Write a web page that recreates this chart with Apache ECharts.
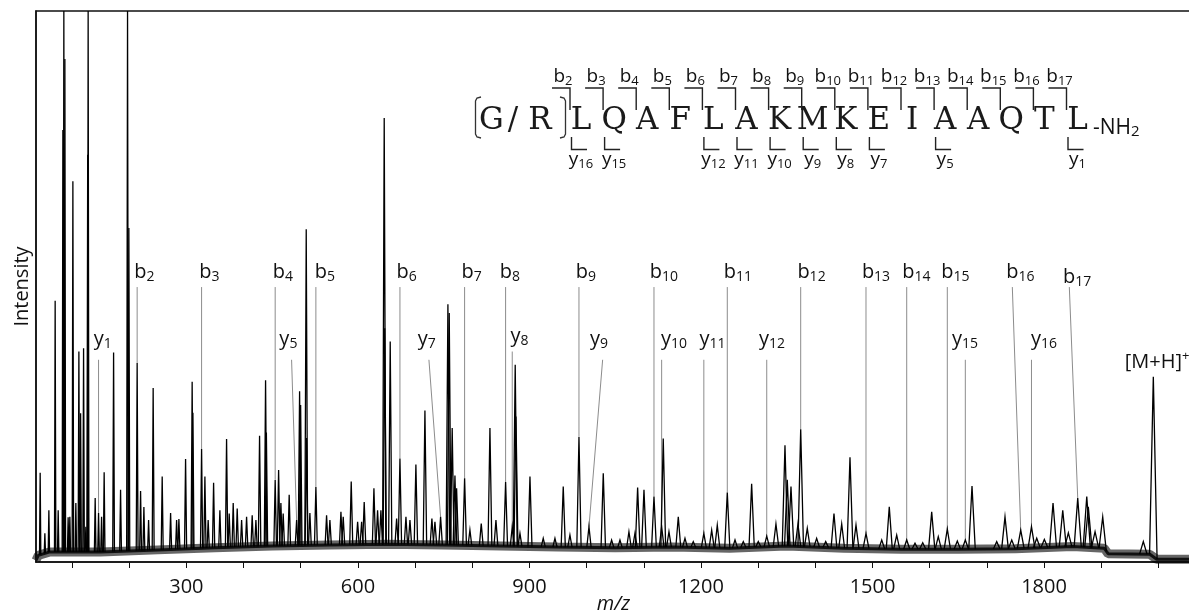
<!DOCTYPE html>
<html>
<head>
<meta charset="utf-8">
<title>MS/MS spectrum</title>
<script src="https://cdn.jsdelivr.net/npm/echarts@6/dist/echarts.min.js"></script>
<style>
  html, body { margin: 0; padding: 0; background: #ffffff; }
  #chart { width: 1189px; height: 616px; }
</style>
</head>
<body>
<div id="chart"></div>
<script>
// ---- spectrum peaks (m/z, relative intensity %) ----
const peakMz = [
  44.3, 52.5, 59.5, 70.5, 75.8, 84.0, 85.7, 87.5, 93.2, 96.2,
  101.5, 106.7, 112.0, 115.0, 120.2, 124.2, 127.4, 128.2, 140.5, 146.4,
  151.7, 156.2, 172.7, 184.9, 197.1, 199.4, 213.9, 219.9, 225.7, 233.9,
  241.9, 257.7, 272.4, 282.9, 286.9, 298.6, 310.1, 311.4, 326.6, 332.4,
  338.1, 347.6, 358.6, 370.3, 374.9, 381.9, 388.9, 396.6, 405.3, 415.1,
  421.6, 428.0, 438.5, 439.9, 455.3, 461.3, 465.3, 469.3, 479.8, 492.8,
  498.0, 499.8, 509.6, 510.1, 516.0, 526.5, 545.2, 551.0, 570.3, 574.3,
  588.3, 599.5, 606.5, 611.0, 628.0, 634.4, 640.2, 646.0, 646.9, 656.5,
  667.7, 673.5, 684.0, 691.0, 701.4, 717.2, 729.4, 734.7, 744.6, 757.4,
  759.7, 764.9, 769.7, 772.6, 786.6, 795.9, 815.7, 830.9, 841.4, 858.3,
  869.9, 875.1, 876.4, 883.4, 900.9, 924.1, 944.6, 959.1, 970.8, 986.6,
  1004.1, 1029.1, 1043.7, 1058.3, 1074.0, 1084.5, 1089.2, 1100.3, 1117.8, 1131.2,
  1134.0, 1144.0, 1160.3, 1172.0, 1186.5, 1205.0, 1218.7, 1228.5, 1246.0, 1259.5,
  1274.0, 1288.6, 1300.2, 1315.0, 1331.1, 1346.9, 1350.9, 1357.4, 1369.6, 1374.4,
  1385.9, 1402.3, 1418.1, 1432.6, 1446.1, 1460.6, 1471.1, 1488.6, 1516.1, 1529.3,
  1542.3, 1559.8, 1574.3, 1587.8, 1603.5, 1615.0, 1630.8, 1648.3, 1662.3, 1674.0,
  1717.2, 1731.7, 1743.5, 1759.2, 1778.0, 1787.2, 1800.5, 1815.7, 1832.7, 1842.5,
  1858.9, 1874.7, 1877.4, 1889.2, 1902.6, 1973.6, 1991.1
];
const peakIntensity = [
  16.2, 5.2, 9.4, 47.4, 9.4, 78.4, 100, 91.3, 8.1, 8.2,
  69.1, 10.7, 38.2, 27.0, 38.8, 6.4, 73.9, 100, 11.6, 8.9,
  8.2, 16.3, 38.0, 13.1, 100, 60.6, 36.1, 12.9, 10.0, 7.6,
  31.6, 15.5, 8.9, 7.6, 7.8, 18.7, 32.7, 27.1, 20.5, 15.5,
  7.6, 14.4, 9.4, 22.3, 8.8, 10.7, 9.7, 7.6, 8.2, 8.5,
  7.6, 22.9, 33.0, 23.5, 14.9, 16.7, 10.7, 8.8, 12.2, 7.6,
  31.0, 28.5, 60.4, 22.5, 8.9, 13.6, 8.5, 7.6, 9.1, 8.2,
  14.6, 7.3, 7.3, 10.9, 13.4, 9.4, 9.4, 80.6, 42.4, 40.0,
  7.9, 18.8, 8.2, 7.6, 17.7, 27.5, 7.9, 7.3, 8.2, 46.8,
  45.2, 24.3, 15.7, 13.4, 15.2, 5.8, 7.0, 24.3, 7.6, 14.5,
  6.4, 35.8, 26.4, 5.2, 15.5, 4.3, 4.3, 13.7, 4.9, 22.7,
  6.4, 16.1, 4.0, 4.0, 5.5, 5.2, 13.5, 13.1, 11.9, 6.4,
  22.4, 5.5, 8.2, 4.3, 3.7, 5.2, 5.8, 6.7, 12.6, 4.0,
  3.7, 14.2, 3.7, 4.7, 6.9, 21.2, 14.9, 13.7, 6.9, 24.1,
  6.1, 4.3, 3.7, 8.8, 6.9, 19.0, 6.7, 5.2, 4.0, 10.0,
  4.9, 4.0, 3.4, 3.5, 9.1, 4.6, 6.0, 3.8, 4.0, 13.8,
  3.7, 8.2, 4.0, 5.8, 6.4, 4.3, 4.1, 10.7, 9.4, 5.3,
  11.6, 11.9, 10.0, 5.5, 8.2, 3.7, 33.6
];

// ---- chemical noise floor ----
const baselineMz = [37, 41, 60, 150, 250, 350, 450, 550, 650, 750, 850, 950, 1050, 1150,
  1250, 1350, 1450, 1550, 1650, 1750, 1850, 1905, 1912, 1985, 1997, 2057];
const baselineIntensity = [0.3, 1.2, 1.8, 1.8, 2.2, 2.6, 2.9, 3.1, 3.2, 3.1, 2.9, 2.7, 2.6, 2.7,
  2.5, 2.9, 2.5, 2.3, 2.3, 2.4, 2.8, 2.5, 1.5, 1.4, 0.5, 0.5];

// ---- axis ticks ----
const xTickValues = [100, 200, 300, 400, 500, 600, 700, 800, 900, 1000,
  1100, 1200, 1300, 1400, 1500, 1600, 1700, 1800, 1900, 2000];
const xLabelValues = [300, 600, 900, 1200, 1500, 1800];

// ---- fragment ion annotations ----
const ionNames = ['b2', 'b3', 'b4', 'b5', 'b6', 'b7', 'b8', 'b9', 'b10', 'b11', 'b12', 'b13',
  'b14', 'b15', 'b16', 'b17', 'y1', 'y5', 'y7', 'y8', 'y9', 'y10', 'y11', 'y12', 'y15', 'y16', '[M+H]+'];
const ionLabelMz = [226.5, 340.2, 468.8, 542.3, 685.2, 798.9, 865.9, 998.8, 1135.2, 1264.7, 1393.3, 1506.1,
  1576.6, 1645.1, 1758.8, 1858.0, 153.9, 478.4, 720.2, 882.5, 1021.5, 1152.7, 1220.1, 1324.2, 1661.8, 1800.0, 1997.6];
const ionLabelIntensity = [52.6, 52.6, 52.6, 52.6, 52.6, 52.6, 52.6, 52.6, 52.6, 52.6, 52.6, 52.6,
  52.6, 52.6, 52.6, 51.7, 40.5, 40.5, 40.5, 41.0, 40.5, 40.5, 40.5, 40.5, 40.5, 40.5, 36.3];
const ionLeaderMz = [213.9, 326.6, 455.3, 526.5, 673.5, 786.6, 858.3, 986.6, 1117.8, 1246.0, 1374.4, 1488.6,
  1559.8, 1630.8, 1744.5, 1844.2, 146.4, 484.0, 724.2, 869.9, 1028.0, 1131.2, 1205.0, 1315.0, 1662.3, 1778.0, null];
const ionLeaderIntensity = [49.9, 49.9, 49.9, 49.9, 49.9, 49.9, 49.9, 49.9, 49.9, 49.9, 49.9, 49.9,
  49.9, 49.9, 49.9, 49.9, 36.7, 36.7, 36.7, 38.2, 36.7, 36.7, 36.7, 36.7, 36.7, 36.7, null];
const ionPeakMz = [213.9, 326.6, 455.3, 526.5, 673.5, 786.6, 858.3, 986.6, 1117.8, 1246.0, 1374.4, 1488.6,
  1559.8, 1630.8, 1759.2, 1858.9, 146.4, 492.8, 744.6, 869.9, 1004.1, 1131.2, 1205.0, 1315.0, 1662.3, 1778.0, 1991.1];

// ---- peptide sequence ----
const residues = ['L', 'Q', 'A', 'F', 'L', 'A', 'K', 'M', 'K', 'E', 'I', 'A', 'A', 'Q', 'T', 'L'];
const variableResidue = ['G', '/', 'R'];
const bIonNumbers = [2, 3, 4, 5, 6, 7, 8, 9, 10, 11, 12, 13, 14, 15, 16, 17];
const yIonNumbers = [16, 15, 12, 11, 10, 9, 8, 7, 5, 1];

const FONT = 'Open Sans';
const SEQ_FONT = 'DejaVu Serif';

function baseAt(m) {
  if (m <= baselineMz[0]) return baselineIntensity[0];
  for (let i = 1; i < baselineMz.length; i++) {
    if (m <= baselineMz[i]) {
      const t = (m - baselineMz[i - 1]) / (baselineMz[i] - baselineMz[i - 1]);
      return baselineIntensity[i - 1] + t * (baselineIntensity[i] - baselineIntensity[i - 1]);
    }
  }
  return baselineIntensity[baselineIntensity.length - 1];
}

function intensityAt(m) {
  let best = 0;
  for (let i = 1; i < peakMz.length; i++) {
    if (Math.abs(peakMz[i] - m) < Math.abs(peakMz[best] - m)) best = i;
  }
  return peakIntensity[best];
}

const richStyles = {
  m: { fontSize: 20, fontFamily: FONT, lineHeight: 24, verticalAlign: 'middle', fill: '#111' },
  s: { fontSize: 14, fontFamily: FONT, lineHeight: 14, verticalAlign: 'bottom', fill: '#111' },
  p: { fontSize: 13, fontFamily: FONT, lineHeight: 13, verticalAlign: 'top', fill: '#111' }
};

function ionText(name) {
  if (name === '[M+H]+') return '{m|[M+H]}{p|+}';
  const parts = name.match(/^([a-z])(\d+)$/);
  return '{m|' + parts[1] + '}{s|' + parts[2] + '}';
}

// ---- sequence inset (drawn in pixel space) ----
const seqFirstX = 581, seqPitch = 33.1, seqMidY = 121;
const cleavageX = k => 570 + seqPitch * (k - 2);
const seqRich = {
  m: { fontSize: 19, fontFamily: FONT, lineHeight: 22, verticalAlign: 'middle', fill: '#111' },
  s: { fontSize: 13, fontFamily: FONT, lineHeight: 13, verticalAlign: 'bottom', fill: '#111' }
};
const graphics = [];
function seqLetter(ch, x) {
  graphics.push({ type: 'text', z: 10, style: {
    text: ch, x: x, y: seqMidY, fontSize: 31, fontFamily: SEQ_FONT,
    fill: '#1a1a1a', align: 'center', verticalAlign: 'middle' } });
}
residues.forEach((r, i) => seqLetter(r, seqFirstX + seqPitch * i));
[491.5, 513, 540].forEach((x, i) => seqLetter(variableResidue[i], x));
// square brackets with rounded ends around the variable residue
graphics.push({ type: 'polyline', z: 10, shape: { points: [[481, 97], [477, 98], [475.5, 101], [475.5, 134], [477, 137], [481, 138]] },
  style: { stroke: '#333', lineWidth: 1.3, fill: null } });
graphics.push({ type: 'polyline', z: 10, shape: { points: [[560, 97], [564, 98], [565.5, 101], [565.5, 134], [564, 137], [560, 138]] },
  style: { stroke: '#333', lineWidth: 1.3, fill: null } });
graphics.push({ type: 'text', z: 10, style: {
  text: '{m|-NH}{s|2}', x: 1093, y: 128, align: 'left', verticalAlign: 'middle',
  rich: { m: { fontSize: 21, fontFamily: FONT, lineHeight: 22, verticalAlign: 'middle', fill: '#111' },
          s: { fontSize: 15, fontFamily: FONT, lineHeight: 15, verticalAlign: 'bottom', fill: '#111' } } } });
bIonNumbers.forEach(k => {
  const c = cleavageX(k);
  graphics.push({ type: 'polyline', z: 10, shape: { points: [[c - 18, 88], [c, 88], [c, 110]] },
    style: { stroke: '#222', lineWidth: 1.4, fill: null } });
  graphics.push({ type: 'text', z: 10, style: {
    text: '{m|b}{s|' + k + '}', x: c - 7, y: 77, align: 'center', verticalAlign: 'middle', rich: seqRich } });
});
yIonNumbers.forEach(n => {
  const c = cleavageX(18 - n);
  graphics.push({ type: 'polyline', z: 10, shape: { points: [[c + 1.5, 137], [c + 1.5, 149.5], [c + 17, 149.5]] },
    style: { stroke: '#222', lineWidth: 1.4, fill: null } });
  graphics.push({ type: 'text', z: 10, style: {
    text: '{m|y}{s|' + n + '}', x: c + 11, y: 160, align: 'center', verticalAlign: 'middle', rich: seqRich } });
});

const chart = echarts.init(document.getElementById('chart'), null, { renderer: 'canvas' });

const noiseData = baselineMz.map((m, i) => [m, baselineIntensity[i]]);

chart.setOption({
  animation: false,
  backgroundColor: '#ffffff',
  grid: { left: 36, right: -2, top: 11, bottom: 54, containLabel: false, outerBoundsMode: 'none',
    show: true, borderColor: '#111', borderWidth: 1.5 },
  xAxis: {
    type: 'value', min: 37, max: 2057,
    name: 'm/z', nameLocation: 'middle', nameGap: 32, nameMoveOverlap: false,
    nameTextStyle: { fontFamily: FONT, fontSize: 20, fontStyle: 'italic', color: '#111' },
    axisLine: { lineStyle: { color: '#111', width: 1.5 } },
    axisTick: { customValues: xTickValues, length: 6, lineStyle: { color: '#111', width: 1 } },
    axisLabel: { customValues: xLabelValues, fontFamily: FONT, fontSize: 20, color: '#111', margin: 15,
      formatter: v => String(v) },
    splitLine: { show: false }
  },
  yAxis: {
    type: 'value', min: 0, max: 100,
    name: 'Intensity', nameLocation: 'middle', nameGap: 4, nameMoveOverlap: false,
    nameTextStyle: { fontFamily: FONT, fontSize: 20, color: '#111' },
    axisLine: { show: true, lineStyle: { color: '#111', width: 1.5 } },
    axisTick: { show: false }, axisLabel: { show: false }, splitLine: { show: false }
  },
  series: [
    {
      name: 'noise halo', type: 'line', silent: true, symbol: 'none', z: 2,
      data: noiseData,
      lineStyle: { color: '#000', width: 9, opacity: 0.6 }
    },
    {
      name: 'noise floor', type: 'line', silent: true, symbol: 'none', z: 2,
      data: noiseData,
      lineStyle: { color: '#111', width: 3 }
    },
    {
      name: 'peaks', type: 'custom', silent: true, z: 3,
      data: peakMz.map((m, i) => [m, peakIntensity[i]]),
      renderItem: (params, api) => {
        const m = api.value(0), h = api.value(1);
        const hw = 1.0 + m * 0.0028;
        return {
          type: 'polyline',
          shape: { points: [api.coord([m - hw, baseAt(m - hw)]), api.coord([m, h]), api.coord([m + hw, baseAt(m + hw)])] },
          style: { stroke: '#000', lineWidth: 1.3, fill: null }
        };
      }
    },
    {
      name: 'ions', type: 'custom', silent: true, z: 1, clip: false,
      data: ionNames.map((n, i) => [ionLabelMz[i], ionLabelIntensity[i]]),
      renderItem: (params, api) => {
        const i = params.dataIndex;
        const children = [];
        if (ionLeaderMz[i] !== null) {
          const p0 = api.coord([ionLeaderMz[i], ionLeaderIntensity[i]]);
          const p1 = api.coord([ionPeakMz[i], intensityAt(ionPeakMz[i])]);
          children.push({ type: 'line', shape: { x1: p0[0], y1: p0[1], x2: p1[0], y2: p1[1] },
            style: { stroke: '#8c8c8c', lineWidth: 1 } });
        }
        const t = api.coord([api.value(0), api.value(1)]);
        children.push({ type: 'text', style: { text: ionText(ionNames[i]), x: t[0], y: t[1],
          align: 'center', verticalAlign: 'middle', rich: richStyles } });
        return { type: 'group', children };
      }
    }
  ],
  graphic: graphics
});
</script>
</body>
</html>
